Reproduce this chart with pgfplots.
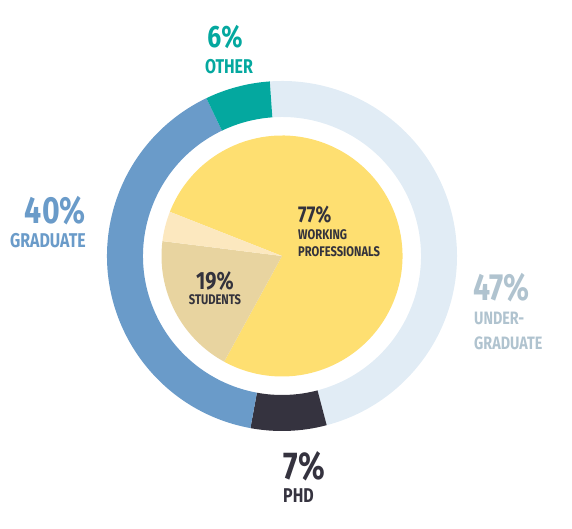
\documentclass[border=0pt]{standalone}
\usepackage{pgfplots}
\pgfplotsset{compat=1.18}
\usepackage{pgfplotstable}
\usepackage{fontspec}
\setmainfont{Fira Sans}[FakeStretch=0.8]

\definecolor{other}{HTML}{04A89F}
\definecolor{grad}{HTML}{6A9BC9}
\definecolor{ugrad}{HTML}{E1ECF5}
\definecolor{ugradtxt}{HTML}{B0C3CF}
\definecolor{phd}{HTML}{35333F}
\definecolor{work}{HTML}{FEDF71}
\definecolor{stud}{HTML}{E8D4A0}
\definecolor{rest}{HTML}{FCE8BF}
\definecolor{ink}{HTML}{33323C}

% outer ring: degree level, clockwise from 94 deg
\pgfplotstableread{
value color
47 ugrad
7  phd
40 grad
6  other
}\outertable

% inner pie: occupation, clockwise from 158.5 deg
\pgfplotstableread{
value color
77 work
19 stud
4  rest
}\innertable

\newcommand{\fs}[1]{\fontsize{#1}{#1}\selectfont}

\begin{document}
\begin{tikzpicture}
\begin{axis}[
    x=1bp, y=1bp,
    xmin=0, xmax=572, ymin=0, ymax=529,
    hide axis,
    clip=false,
]
\def\cx{282}\def\cy{273}
% keep the full canvas
\path (axis cs:0,0) rectangle (axis cs:572,529);

% ring
\pgfmathsetmacro\a{94}
\pgfplotsforeachungrouped \i in {0,...,3} {
  \pgfplotstablegetelem{\i}{value}\of\outertable \let\v\pgfplotsretval
  \pgfplotstablegetelem{\i}{color}\of\outertable \let\c\pgfplotsretval
  \pgfmathsetmacro\b{\a-3.6*\v}
  \pgfmathsetmacro\xo{\cx+175*cos(\a)}\pgfmathsetmacro\yo{\cy+175*sin(\a)}
  \pgfmathsetmacro\xi{\cx+139*cos(\b)}\pgfmathsetmacro\yi{\cy+139*sin(\b)}
  \edef\temp{\noexpand\fill[\c] (axis cs:\xo,\yo) arc[start angle=\a, end angle=\b, radius=175bp]
     -- (axis cs:\xi,\yi) arc[start angle=\b, end angle=\a, radius=139bp] -- cycle;}
  \temp
  \global\let\a\b
}

% pie
\pgfmathsetmacro\a{158.5}
\pgfplotsforeachungrouped \i in {0,...,2} {
  \pgfplotstablegetelem{\i}{value}\of\innertable \let\v\pgfplotsretval
  \pgfplotstablegetelem{\i}{color}\of\innertable \let\c\pgfplotsretval
  \pgfmathsetmacro\b{\a-3.6*\v}
  \pgfmathsetmacro\xo{\cx+120.5*cos(\a)}\pgfmathsetmacro\yo{\cy+120.5*sin(\a)}
  \edef\temp{\noexpand\fill[\c] (axis cs:\cx,\cy) -- (axis cs:\xo,\yo)
     arc[start angle=\a, end angle=\b, radius=120.5bp] -- cycle;}
  \temp
  \global\let\a\b
}

\tikzset{lab/.style={inner sep=0pt, font=\bfseries}}
\node[lab, text=other] at (axis cs:225,492) {\fs{31}6\%};
\node[lab, text=other] at (axis cs:229,462) {\fs{20}OTHER};
\node[lab, text=grad, anchor=east] at (axis cs:86,318) {\fs{38}40\%};
\node[lab, text=grad, anchor=east] at (axis cs:86,288) {\fs{20}GRADUATE};
\node[lab, text=ugradtxt, anchor=west] at (axis cs:473,241) {\fs{38}47\%};
\node[lab, text=ugradtxt, anchor=west] at (axis cs:474,211) {\fs{18}UNDER-};
\node[lab, text=ugradtxt, anchor=west] at (axis cs:474,186) {\fs{18}GRADUATE};
\node[lab, text=phd, anchor=west] at (axis cs:283,63) {\fs{39}7\%};
\node[lab, text=phd, anchor=west] at (axis cs:283,33) {\fs{20}PHD};
\node[lab, text=ink, anchor=west] at (axis cs:298,314) {\fs{23}77\%};
\node[lab, text=ink, anchor=west] at (axis cs:298,294) {\fs{14}WORKING};
\node[lab, text=ink, anchor=west] at (axis cs:298,277) {\fs{14}PROFESSIONALS};
\node[lab, text=ink] at (axis cs:215,248) {\fs{25}19\%};
\node[lab, text=ink] at (axis cs:215,229) {\fs{14}STUDENTS};
\end{axis}
\end{tikzpicture}
\end{document}
